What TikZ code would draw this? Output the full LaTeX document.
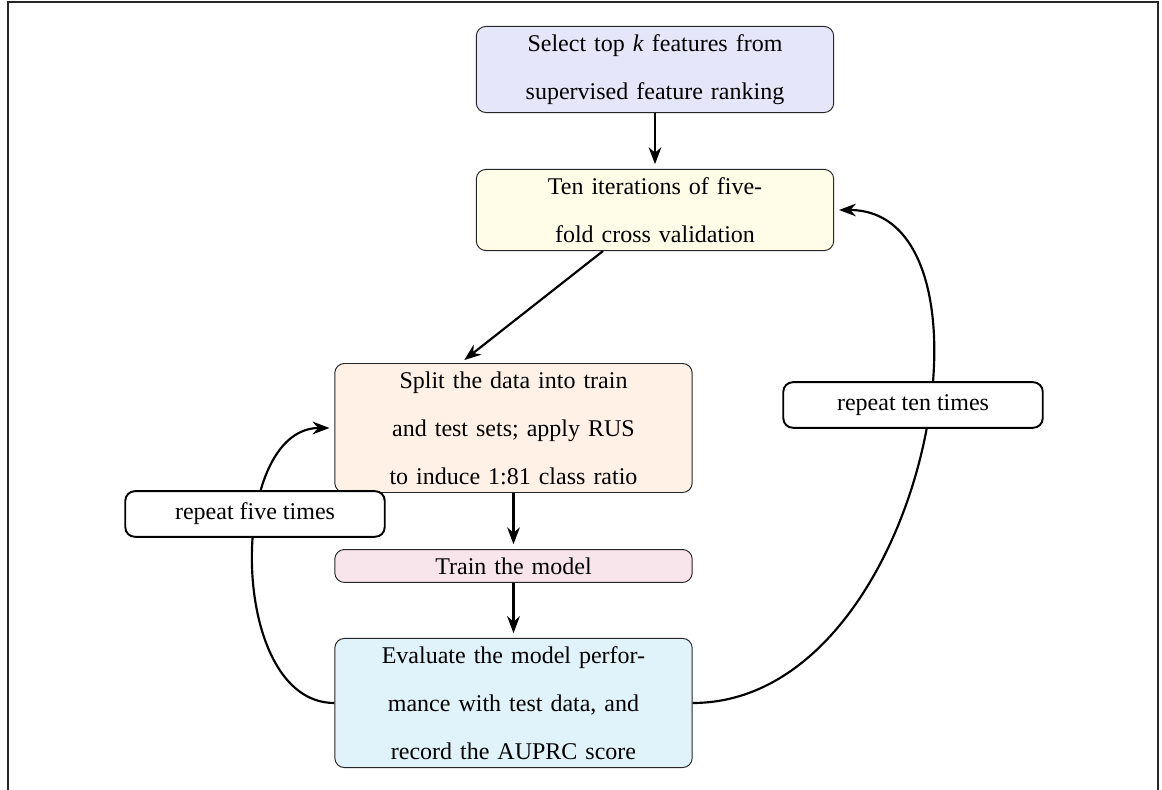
\documentclass[tikz,border=0pt]{standalone}
\usepackage{fontspec}
\setmainfont{Liberation Serif}
\usepackage{xcolor}
\usepackage{tikz}
\usetikzlibrary{arrows.meta,calc}
\definecolor{selfill}{RGB}{230,230,250}
\definecolor{tenfill}{RGB}{255,252,232}
\definecolor{splitfill}{RGB}{255,241,230}
\definecolor{trainfill}{RGB}{248,229,236}
\definecolor{evalfill}{RGB}{224,242,250}
\begin{document}
\begin{tikzpicture}[x=0.4167pt,y=-0.4167pt,>=Stealth,
stepbox/.style={draw=black!85,rounded corners,text width=5cm,align=center,font=\fontsize{10}{20}\selectfont},
loopbox/.style={draw,thick,rounded corners,fill=white,minimum width=3.8cm,minimum height=19pt},
arr/.style={->,line width=0.9pt,shorten >=2pt}]
\useasboundingbox(0,0)rectangle(1162,790);
\draw[line width=0.8pt,black!85](8,790)--(8,2)--(1158,2)--(1158,790);
% boxes
\node[stepbox,fill=selfill](sel)at(655,69.5){Select top \textit{k} features from\\supervised feature ranking};
\node[stepbox,fill=tenfill](ten)at(655,210){Ten iterations of five-\\fold cross validation};
\node[stepbox,fill=splitfill](split)at(513.5,428){Split the data into train\\and test sets; apply RUS\\to induce 1:81 class ratio};
\node[stepbox,fill=trainfill](train)at(513.5,566){Train the model};
\node[stepbox,fill=evalfill](eval)at(513.5,703){Evaluate the model perfor-\\mance with test data, and\\record the AUPRC score};
% arrows
\draw[arr](sel)--(ten);
\draw[arr]($(ten.south)+(-52,0)$)--($(split.north)+(-53,0)$);
\draw[arr](split)--(train);
\draw[arr](train)--(eval);
\draw[arr](eval.west)to[out=180,in=180](split.west);
\draw[arr](eval.east)to[out=0,in=0,out looseness=1.17,in looseness=0.9](ten.east);
% loop labels
\node[loopbox](five)at(255,514){repeat five times};
\node[loopbox](tenx)at(913,405){repeat ten times};
\end{tikzpicture}
\end{document}
